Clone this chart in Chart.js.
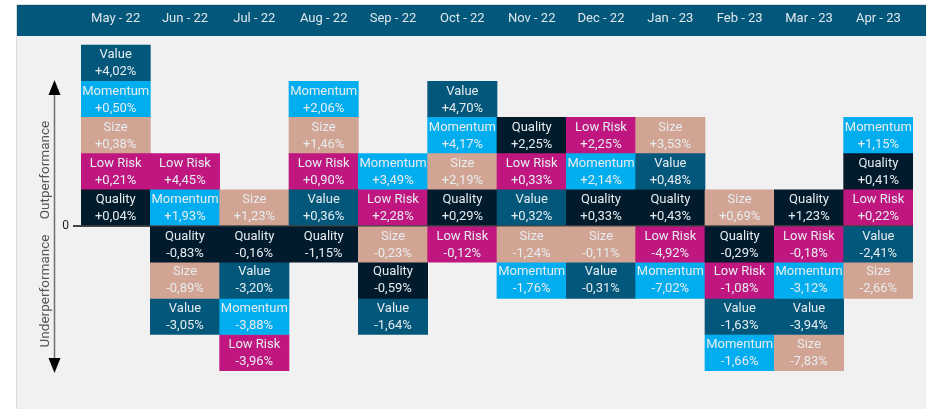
<!DOCTYPE html>
<html>
<head>
<meta charset="utf-8">
<script src="https://cdn.jsdelivr.net/npm/chart.js@4.4.0/dist/chart.umd.min.js"></script>
<style>
  html, body { margin: 0; padding: 0; background: #ffffff; }
  #wrap { width: 926px; height: 409px; position: relative; }
</style>
</head>
<body>
<div id="wrap"><canvas id="c" width="926" height="409"></canvas></div>
<script>
// ---- Data ----
const months = ['May - 22','Jun - 22','Jul - 22','Aug - 22','Sep - 22','Oct - 22','Nov - 22','Dec - 22','Jan - 23','Feb - 23','Mar - 23','Apr - 23'];
const factors = ['Value','Momentum','Size','Low Risk','Quality'];
const valueRet    = [ 4.02, -3.05, -3.20,  0.36, -1.64,  4.70,  0.32, -0.31,  0.48, -1.63, -3.94, -2.41];
const momentumRet = [ 0.50,  1.93, -3.88,  2.06,  3.49,  4.17, -1.76,  2.14, -7.02, -1.66, -3.12,  1.15];
const sizeRet     = [ 0.38, -0.89,  1.23,  1.46, -0.23,  2.19, -1.24, -0.11,  3.53,  0.69, -7.83, -2.66];
const lowRiskRet  = [ 0.21,  4.45, -3.96,  0.90,  2.28, -0.12,  0.33,  2.25, -4.92, -1.08, -0.18,  0.22];
const qualityRet  = [ 0.04, -0.83, -0.16, -1.15, -0.59,  0.29,  2.25,  0.33,  0.43, -0.29,  1.23,  0.41];
const yTickLabels = ['0'];

const returns = { 'Value': valueRet, 'Momentum': momentumRet, 'Size': sizeRet, 'Low Risk': lowRiskRet, 'Quality': qualityRet };
const colors = { 'Value': '#03577a', 'Momentum': '#00aeef', 'Size': '#d2a493', 'Low Risk': '#c0167f', 'Quality': '#021b2c' };

// Build ranked stacks: positives ascending from zero, negatives descending from zero
const POS_LEVELS = 5, NEG_LEVELS = 4;
const posStacks = [], negStacks = [];
months.forEach((m, i) => {
  const items = factors.map(f => ({ f, v: returns[f][i] }));
  posStacks.push(items.filter(o => o.v >= 0).sort((a, b) => a.v - b.v));
  negStacks.push(items.filter(o => o.v < 0).sort((a, b) => b.v - a.v));
});

const datasets = [];
for (let l = 0; l < POS_LEVELS; l++) {
  datasets.push({
    label: 'pos' + l,
    data: posStacks.map(s => s[l] ? 1 : null),
    items: posStacks.map(s => s[l] || null),
    backgroundColor: posStacks.map(s => s[l] ? colors[s[l].f] : 'transparent'),
    stack: 's'
  });
}
for (let l = 0; l < NEG_LEVELS; l++) {
  datasets.push({
    label: 'neg' + l,
    data: negStacks.map(s => s[l] ? -1 : null),
    items: negStacks.map(s => s[l] || null),
    backgroundColor: negStacks.map(s => s[l] ? colors[s[l].f] : 'transparent'),
    stack: 's'
  });
}

function fmt(v) {
  return (v >= 0 ? '+' : '-') + Math.abs(v).toFixed(2).replace('.', ',') + '%';
}

const FONT = 'Roboto, "DejaVu Sans", sans-serif';

const bgPlugin = {
  id: 'bg',
  beforeDraw(chart) {
    const ctx = chart.ctx;
    ctx.save();
    ctx.fillStyle = '#ffffff';
    ctx.fillRect(0, 0, chart.width, chart.height);
    ctx.fillStyle = '#f1f1f1';
    ctx.fillRect(16, 4, chart.width - 16, chart.height - 4);
    ctx.fillStyle = '#dcdcdc';
    ctx.fillRect(16, 4, chart.width - 16, 1);
    ctx.fillRect(16, 4, 1, chart.height - 4);
    ctx.fillStyle = '#03577a';
    ctx.fillRect(17, 5, chart.width - 17, 31);
    ctx.restore();
  }
};

const decoPlugin = {
  id: 'deco',
  afterDatasetsDraw(chart) {
    const ctx = chart.ctx;
    // labels inside boxes
    ctx.save();
    ctx.textAlign = 'center';
    ctx.textBaseline = 'middle';
    ctx.font = '13px ' + FONT;
    ctx.fillStyle = '#e6ecf0';
    chart.data.datasets.forEach((ds, di) => {
      const meta = chart.getDatasetMeta(di);
      meta.data.forEach((el, i) => {
        const it = ds.items[i];
        if (!it) return;
        const cy = (el.y + el.base) / 2;
        ctx.fillText(it.f, el.x, cy - 8);
        ctx.fillText(fmt(it.v), el.x, cy + 9);
      });
    });
    ctx.restore();

    // vertical arrow
    ctx.save();
    const ax = 54.5;
    ctx.strokeStyle = '#707070';
    ctx.lineWidth = 1.5;
    ctx.beginPath();
    ctx.moveTo(ax, 92);
    ctx.lineTo(ax, 360);
    ctx.stroke();
    ctx.fillStyle = '#000000';
    ctx.beginPath();
    ctx.moveTo(ax, 80); ctx.lineTo(ax - 6, 95); ctx.lineTo(ax + 6, 95); ctx.closePath(); ctx.fill();
    ctx.beginPath();
    ctx.moveTo(ax, 373); ctx.lineTo(ax - 6, 358); ctx.lineTo(ax + 6, 358); ctx.closePath(); ctx.fill();

    // axis side titles
    ctx.fillStyle = '#555555';
    ctx.font = '13.5px ' + FONT;
    ctx.textAlign = 'center';
    ctx.textBaseline = 'middle';
    ctx.translate(46, 170);
    ctx.rotate(-Math.PI / 2);
    ctx.fillText('Outperformance', 0, 0);
    ctx.rotate(Math.PI / 2);
    ctx.translate(0, 121);
    ctx.rotate(-Math.PI / 2);
    ctx.fillText('Underperformance', 0, 0);
    ctx.restore();
  }
};

new Chart(document.getElementById('c'), {
  type: 'bar',
  data: { labels: months, datasets },
  options: {
    responsive: false,
    devicePixelRatio: 1,
    animation: false,
    layout: { padding: { left: 0, right: 13, top: 0, bottom: 10 } },
    plugins: { legend: { display: false }, tooltip: { enabled: false } },
    datasets: { bar: { categoryPercentage: 1, barPercentage: 1, borderWidth: 0 } },
    scales: {
      x: {
        position: 'top',
        stacked: true,
        grid: { display: false, drawTicks: false },
        border: { display: false },
        ticks: { color: '#dfe7ec', font: { family: FONT, size: 13 }, padding: 9, maxRotation: 0, autoSkip: false },
        afterFit(s) { s.height = 36; }
      },
      y: {
        stacked: true,
        min: -4.75,
        max: 5.25,
        afterBuildTicks(s) { s.ticks = [{ value: 0 }]; },
        ticks: {
          color: '#222222',
          font: { family: FONT, size: 12 },
          padding: 4,
          callback: (v) => v === 0 ? yTickLabels[0] : ''
        },
        grid: {
          color: (c) => c.tick && c.tick.value === 0 ? '#444444' : 'transparent',
          lineWidth: 2,
          tickLength: 8
        },
        border: { display: false },
        afterFit(s) { s.width = 81; }
      }
    }
  },
  plugins: [bgPlugin, decoPlugin]
});
</script>
</body>
</html>
